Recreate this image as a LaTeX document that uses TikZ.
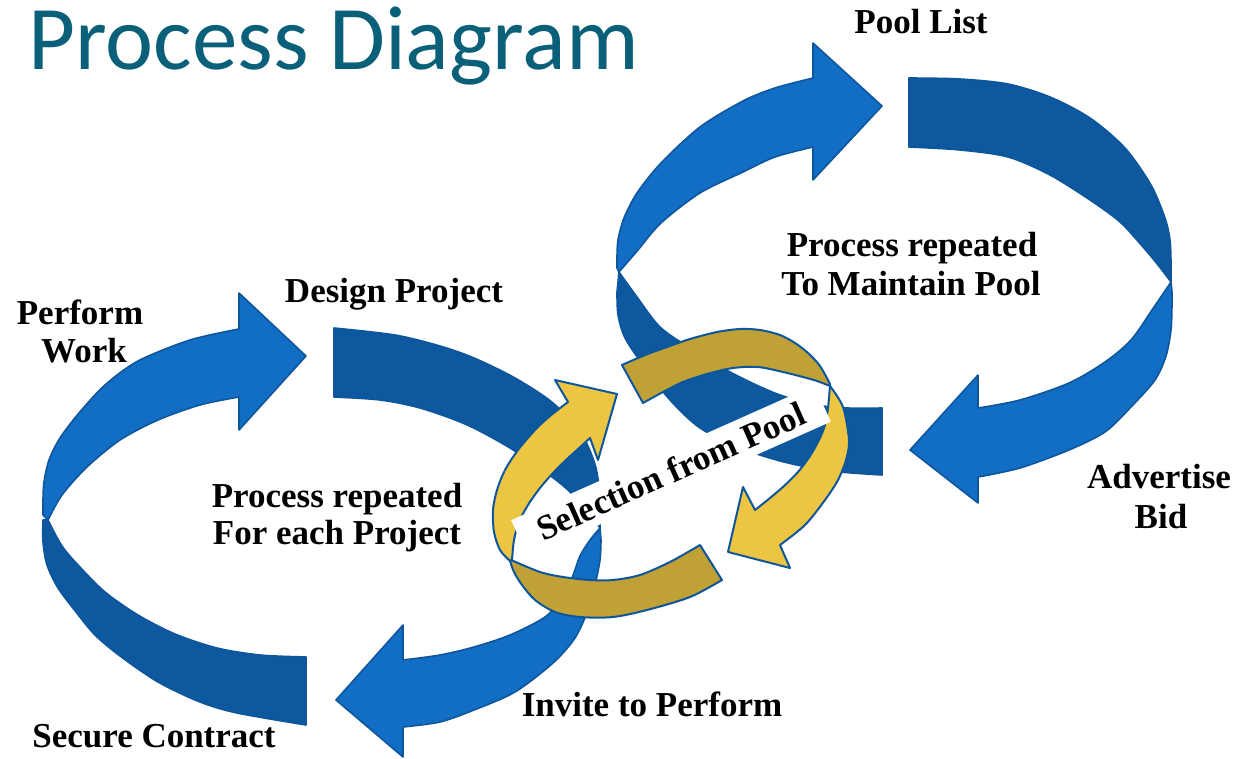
\documentclass[tikz,border=0pt]{standalone}
\usepackage{fontspec}
\setmainfont{Liberation Serif}
\newfontfamily\titlefam{Carlito}
\definecolor{lblue}{RGB}{17,110,196}
\definecolor{dblue}{RGB}{13,88,158}
\definecolor{oblue}{RGB}{14,86,156}
\definecolor{gyellow}{RGB}{236,198,66}
\definecolor{gdark}{RGB}{192,161,54}
\definecolor{titleteal}{RGB}{11,96,121}
\tikzset{
  lightpiece/.style={fill=lblue, draw=oblue, line width=0.8pt, line join=round},
  darkpiece/.style={fill=dblue, draw=oblue, line width=0.8pt, line join=round},
  yellowpiece/.style={fill=gyellow, draw=oblue, line width=1pt, line join=round},
  goldpiece/.style={fill=gdark, draw=oblue, line width=1pt, line join=round},
  lbl/.style={font=\bfseries\fontsize{17.5}{19.5}\selectfont, inner sep=0pt, anchor=base},
  selbox/.style={fill=white, inner sep=0pt, minimum width=166pt, minimum height=20pt,
    font=\bfseries\fontsize{17.5}{19.5}\selectfont}
}
\begin{document}
\begin{tikzpicture}[x=0.5pt, y=-0.5pt]
\useasboundingbox (0,0) rectangle (1238,759);
\fill[white] (0,0) rectangle (1238,759);

% ---------- left loop ----------
\path[darkpiece] (48,520) -- plot[smooth] coordinates {(48,520) (62,546) (79,566) (105,592) (138,615) (175,634) (217,648) (260,655) (306,657)}
  -- (306,725) -- plot[smooth] coordinates {(306,725) (237,713) (200,702) (158,682) (120,656) (95,635) (76,612) (58,588) (47,565) (43,542) (43,520)} -- cycle;
\path[lightpiece] (239,329) -- plot[smooth] coordinates {(239,329) (190,340) (138,361) (105,385) (79,413) (60,438) (49,460) (44,482) (43,500)}
  -- (43,515) -- (48,520) -- plot[smooth] coordinates {(48,520) (62,495) (87,467) (120,440) (158,420) (200,405) (239,397)}
  -- (239,430) -- (306,356) -- (239,293) -- cycle;
\path[darkpiece] (334,328) -- plot[smooth] coordinates {(334,328) (395,335) (440,346) (474,358) (515,378) (553,403) (582,435) (596,468) (601,505)}
  -- (600,528) -- plot[smooth] coordinates {(600,528) (588,512) (568,490) (540,468) (505,445) (465,424) (420,408) (380,400) (334,397)} -- cycle;
\path[lightpiece] (600,528) -- plot[smooth] coordinates {(600,528) (590,540) (580,556) (572,578) (562,598) (545,617) (510,635) (474,647) (440,655) (403,660)}
  -- (403,625) -- (336,700) -- (403,757) -- (403,727)
  -- plot[smooth] coordinates {(403,727) (440,722) (474,710) (515,692) (553,663) (575,638) (588,610) (595,585) (600,560) (601,540)} -- cycle;

% ---------- right loop ----------
\path[darkpiece] (909,78) -- plot[smooth] coordinates {(909,78) (960,79) (1008,84) (1050,97) (1090,118) (1125,148) (1151,185) (1165,218) (1170,240) (1171,262)}
  -- (1171,282) -- plot[smooth] coordinates {(1171,282) (1158,265) (1143,247) (1120,222) (1090,200) (1050,175) (1008,157) (960,150) (909,147)} -- cycle;
\path[lightpiece] (1171,282) -- plot[smooth] coordinates {(1171,282) (1152,310) (1131,340) (1105,362) (1069,383) (1020,400) (978,408)}
  -- (978,375) -- (910,450) -- (978,503) -- (978,477)
  -- plot[smooth] coordinates {(978,477) (1020,468) (1069,450) (1105,432) (1131,407) (1155,380) (1166,356) (1171,330) (1172,305) (1172,292)} -- cycle;
\path[darkpiece] (619,272) -- (617,292) -- plot[smooth] coordinates {(617,292) (618,315) (625,338) (643,365) (670,400) (700,428) (740,448) (784,462) (830,471) (882,475)}
  -- (882,408) -- plot[smooth] coordinates {(882,408) (830,407) (780,395) (730,372) (690,348) (660,327) (637,297) (619,272)} -- cycle;
\path[lightpiece] (813,78) -- plot[smooth] coordinates {(813,78) (775,88) (743,101) (700,127) (661,163) (637,193) (624,218) (618,240) (617,258)}
  -- (617,268) -- (619,272) -- plot[smooth] coordinates {(619,272) (638,250) (661,223) (700,193) (743,172) (775,157) (813,147)}
  -- (813,180) -- (882,106) -- (813,43) -- cycle;

% ---------- gold ring ----------
\path[yellowpiece] (568,402) -- (555,380) -- (617,394) -- (598,460) -- (590,438)
  -- plot[smooth] coordinates {(590,438) (577,450) (565,461) (553,473) (540,488) (528,505) (519,522) (514,540) (512,560)}
  -- plot[smooth] coordinates {(510,561) (500,550) (494,532) (493,510) (497,490) (505,470) (518,450) (535,430) (550,416) (568,402)} -- cycle;
\path[goldpiece] (511,560) -- plot[smooth] coordinates {(511,560) (540,572) (563,577) (590,580) (613,580) (640,575) (670,562) (700,545)}
  -- (722,580) -- plot[smooth] coordinates {(722,580) (690,597) (647,610) (613,617) (580,617) (555,612) (535,600) (522,585) (514,572) (510,561)} -- cycle;
\path[yellowpiece] (830,386) -- plot[smooth] coordinates {(830,386) (843,407) (849,440) (846,460) (838,480) (825,500) (805,525) (780,545)}
  -- (790,568) -- (728,552) -- (743,487) -- (755,510)
  -- plot[smooth] coordinates {(755,510) (770,498) (784,486) (798,472) (810,456) (819,440) (825,425) (828,408) (830,386)} -- cycle;
\path[goldpiece] (622,365) -- plot[smooth] coordinates {(622,365) (645,355) (667,347) (690,339) (717,332) (740,329) (760,330) (780,335) (795,343) (808,353) (820,366) (830,384)}
  -- plot[smooth] coordinates {(830,386) (817,381) (803,377) (783,372) (758,367) (733,368) (707,374) (683,382) (663,392) (643,403)} -- cycle;

\node[selbox, rotate=24] (sel) at (671,471) {Selection from Pool};

% ---------- texts ----------
\node[anchor=base west, inner sep=0pt, text=titleteal, font=\titlefam\fontsize{45.5}{50}\selectfont] (title) at (28,70) {Process Diagram};
\node[lbl] (pool) at (921,34) {Pool List};
\node[lbl] (rep1a) at (912,257) {Process repeated};
\node[lbl] (rep1b) at (911,296) {To Maintain Pool};
\node[lbl] (perf1) at (80,325) {Perform};
\node[lbl] (perf2) at (84,363) {Work};
\node[lbl] (design) at (394,303) {Design Project};
\node[lbl] (rep2a) at (337,507) {Process repeated};
\node[lbl] (rep2b) at (337,545) {For each Project};
\node[lbl] (adv1) at (1159,488) {Advertise};
\node[lbl] (adv2) at (1161,528) {Bid};
\node[lbl] (invite) at (652,716) {Invite to Perform};
\node[lbl] (secure) at (154,747) {Secure Contract};
\end{tikzpicture}
\end{document}
